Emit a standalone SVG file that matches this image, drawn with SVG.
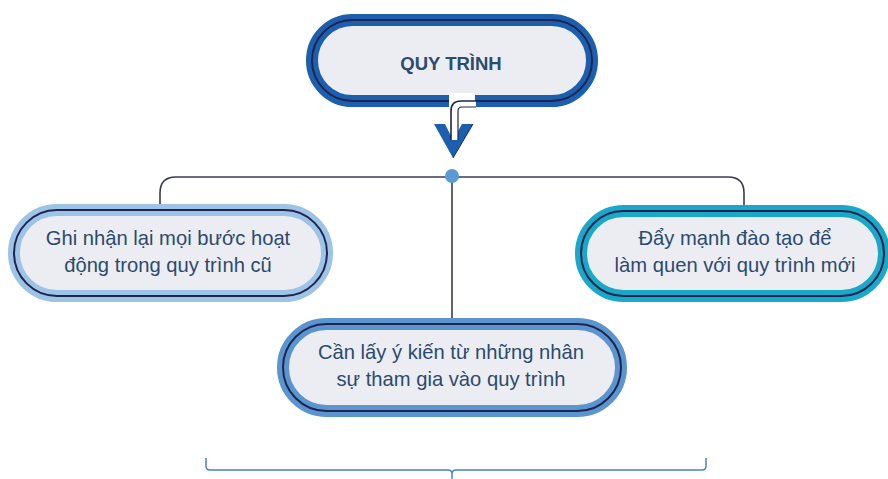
<svg xmlns="http://www.w3.org/2000/svg" width="888" height="479" viewBox="0 0 888 479">
  <style>
    .fill { fill: #ecedf2; stroke-width: 12; }
    .rim { fill: none; stroke: #1f2550; stroke-width: 2; }
    .label { font-family: "Liberation Sans", Arial, sans-serif; font-size: 20.2px; fill: #2b4a6f; text-anchor: middle; }
    .title { font-family: "Liberation Sans", Arial, sans-serif; font-size: 18.5px; font-weight: bold; fill: #2a4b72; text-anchor: middle; }
    .link { fill: none; stroke: #3a3a5a; stroke-width: 1.6; }
  </style>
  <rect width="888" height="479" fill="#ffffff"/>

  <!-- connectors -->
  <g id="connectors">
    <path class="link" d="M160,204 V193 Q160,177 176,177 H728 Q744,177 744,193 V205"/>
    <path class="link" d="M452,177 V318"/>
    <circle cx="452" cy="176" r="7" fill="#5b9bd5"/>
  </g>

  <!-- top node -->
  <g id="node-quy-trinh">
    <rect class="fill" x="312" y="20" width="280" height="81" rx="40.5" stroke="#1c5fae"/>
    <rect class="rim" x="312" y="20" width="280" height="81" rx="40.5"/>
    <text class="title" x="451" y="70">QUY TRÌNH</text>
  </g>

  <!-- down arrow out of the top node -->
  <g id="arrow-down">
    <rect x="449" y="93" width="26" height="16" fill="#ffffff"/>
    <polygon points="434,124 445,124 453,140 462,124 473,124 453,158" fill="#1c5fae"/>
    <polyline points="473,124 453,158" fill="none" stroke="#1f2550" stroke-width="1"/>
    <path d="M476,101 H461 Q451,101 451,111 V140 H458 V111 Q458,107 462,107 H476 Z" fill="#ffffff"/>
    <path d="M476,101 H461 Q451,101 451,111 V140" fill="none" stroke="#1f2550" stroke-width="1.6"/>
    <path d="M458,140 V111 Q458,107 462,107 H476" fill="none" stroke="#1f2550" stroke-width="1.2"/>
  </g>

  <!-- left node -->
  <g id="node-ghi-nhan">
    <rect class="fill" x="14" y="210" width="313" height="86" rx="43" stroke="#9dc3e6"/>
    <rect class="rim" x="14" y="210" width="313" height="86" rx="43"/>
    <text class="label" x="168" y="245">Ghi nhận lại mọi bước hoạt</text>
    <text class="label" x="168" y="272">động trong quy trình cũ</text>
  </g>

  <!-- right node -->
  <g id="node-day-manh">
    <rect class="fill" x="581" y="211" width="303" height="85" rx="42.5" stroke="#1aa8c8"/>
    <rect class="rim" x="581" y="211" width="303" height="85" rx="42.5"/>
    <text class="label" x="735" y="245">Đẩy mạnh đào tạo để</text>
    <text class="label" x="735" y="272">làm quen với quy trình mới</text>
  </g>

  <!-- centre node -->
  <g id="node-can-lay">
    <rect class="fill" x="283" y="324" width="338" height="87" rx="43.5" stroke="#5b95d0"/>
    <rect class="rim" x="283" y="324" width="338" height="87" rx="43.5"/>
    <text class="label" x="451" y="359">Cần lấy ý kiến từ những nhân</text>
    <text class="label" x="451" y="386">sự tham gia vào quy trình</text>
  </g>

  <!-- bracket under the nodes -->
  <g id="brace">
    <path d="M206,458 V466 Q206,470 210,470 H448 Q452,470 452,474 V479 M452,474 Q452,470 456,470 H702 Q706,470 706,466 V458" fill="none" stroke="#4a7fd0" stroke-width="1.5"/>
  </g>
</svg>
